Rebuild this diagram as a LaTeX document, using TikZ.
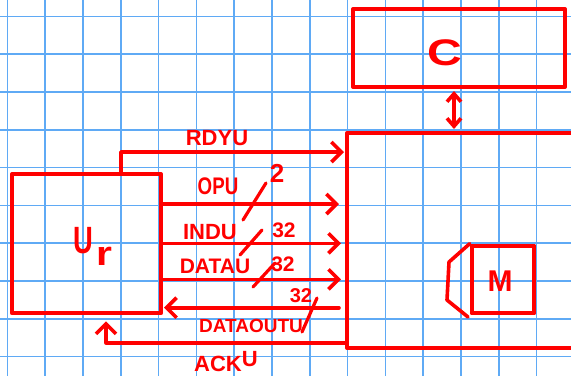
\documentclass[tikz,border=0pt]{standalone}
\usepackage{fontspec}
\usepackage{graphicx}
\setmainfont{Liberation Sans}
\usetikzlibrary{arrows.meta,calc}
\definecolor{gridblue}{RGB}{95,170,245}
\definecolor{ink}{RGB}{255,0,0}
\newcommand{\hw}[3]{\scalebox{#1}[1]{\fontsize{#2}{#2}\selectfont #3}}
\begin{document}
\begin{tikzpicture}[x=1pt,y=-1pt,
  box/.style={draw=ink, line width=4pt, inner sep=0pt, line join=round},
  wire/.style={draw=ink, line width=3.6pt, line cap=round, line join=round},
  arr/.style={wire, -{Straight Barb[length=10pt,width=20pt]}},
  darr/.style={wire, {Straight Barb[length=8pt,width=14pt]}-{Straight Barb[length=8pt,width=14pt]}},
  lbl/.style={text=ink, inner sep=0pt, font=\bfseries},
  slash/.style={draw=ink, line width=3.2pt, line cap=round},
]
\useasboundingbox (0,0) rectangle (571,376);
\clip (0,0) rectangle (571,376);
\fill[white] (0,0) rectangle (571,376);
\foreach \i in {0,...,15} \draw[gridblue, line width=1.6pt] (7.3+37.8*\i,0) -- (7.3+37.8*\i,376);
\foreach \j in {0,...,9} \draw[gridblue, line width=1.6pt] (0,16.3+37.8*\j) -- (571,16.3+37.8*\j);

% boxes
\node[box, minimum width=149pt, minimum height=139pt] (U) at (86.5,243.8) {};
\node[box, minimum width=212pt, minimum height=78pt] (C) at (459,48) {};
\node[box, minimum width=300pt, minimum height=215pt] (main) at (497,240.5) {};
\node[box, minimum width=62.6pt, minimum height=67.6pt] (M) at (503,279.5) {};

% box texts
\node[lbl] (ulab) at (83,241) {\hw{0.72}{38}{U}};
\node[lbl] (rlab) at (104,256) {\hw{1.2}{34}{r}};
\node[lbl] (clab) at (445,53) {\hw{1.3}{37}{C}};
\node[lbl] (mlab) at (500,281) {\hw{1}{30}{M}};

% trapezoid next to M
\draw[wire] (M.north west) -- (449,262) -- (447,300) -- (468,317);

% C <-> main
\draw[darr, shorten <=2pt, shorten >=2pt] (C.south -| 454,0) -- (main.north -| 454,0);

% RDYU
\draw[arr, shorten >=1pt] ($(U.north west)+(111,0)$) |- ($(main.north west)+(0,21)$);
\node[lbl] (rdy) at (217,138) {\hw{1}{22}{RDYU}};

% OPU
\draw[arr, shorten >=6pt] (U.east |- 0,204) -- (main.west |- 0,204);
\node[lbl] (opu) at (218,186) {\hw{0.78}{24}{OPU}};
\draw[slash] (243,220) -- (266,183);
\node[lbl] (opuw) at (277,173) {\hw{1}{26}{2}};

% INDU
\draw[arr, shorten >=4pt] (U.east |- 0,243.3) -- (main.west |- 0,243.3);
\node[lbl] (indu) at (210,232) {\hw{1}{22}{INDU}};
\draw[slash] (240,255) -- (262,230);
\node[lbl] (induw) at (284,230) {\hw{1}{21}{32}};

% DATAU
\draw[arr, shorten >=4pt] (U.east |- 0,279.3) -- (main.west |- 0,279.3);
\node[lbl] (datau) at (215,266) {\hw{1}{21}{DATAU}};
\draw[slash] (253,287) -- (275,263);
\node[lbl] (datauw) at (283,264) {\hw{1}{21}{32}};

% DATAOUTU
\draw[arr, shorten <=6pt, shorten >=1pt] (main.west |- 0,307.7) -- (U.east |- 0,307.7);
\node[lbl] (dout) at (251,326) {\hw{1}{19}{DATAOUTU}};
\draw[slash] (317,298) -- (302,332);
\node[lbl] (doutw) at (301,296) {\hw{1}{20}{32}};

% ACKU
\draw[arr, shorten >=6pt] (main.west |- 0,342.7) -| ($(U.south west)+(96,0)$);
\node[lbl] (ack) at (226,362) {\hw{1}{22}{ACK\raisebox{5pt}{U}}};
\end{tikzpicture}
\end{document}
